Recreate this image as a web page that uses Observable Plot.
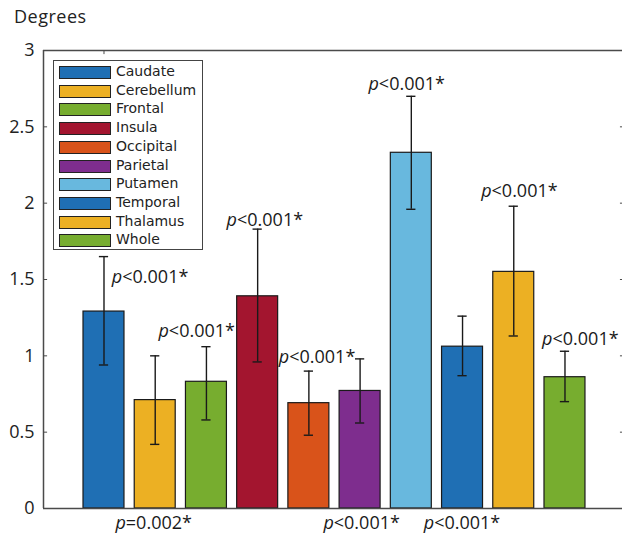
<!DOCTYPE html>
<html><head><meta charset="utf-8">
<script src="https://cdn.jsdelivr.net/npm/d3@7"></script>
<script src="https://cdn.jsdelivr.net/npm/@observablehq/plot@0.6"></script>
<style>
body{margin:0;background:#fff;}
#wrap{position:relative;width:622px;height:534px;font-family:"Open Sans",sans-serif;overflow:hidden;}
#wrap svg{position:absolute;left:0;top:0;}
#title{position:absolute;left:14px;top:4px;font-size:18px;letter-spacing:0.5px;color:#222;}
#legend{position:absolute;left:53px;top:60px;width:150px;height:190px;border:1px solid #444;background:#fff;box-sizing:border-box;font-family:"DejaVu Sans",sans-serif;font-size:14px;color:#222;}
.row{position:absolute;left:5px;height:14px;}
.sw{position:absolute;left:0;top:0;width:52px;height:13px;box-sizing:border-box;border:1.3px solid #222;}
.lb{position:absolute;left:57px;top:-3px;white-space:nowrap;}
</style></head>
<body>
<div id="wrap"><div id="title">Degrees</div></div>
<script>
const regions = ["Caudate","Cerebellum","Frontal","Insula","Occipital","Parietal","Putamen","Temporal","Thalamus","Whole"];
const colors = ["#1f6fb4","#ecb023","#77ad2f","#a3152f","#d9531a","#7e2d8e","#68b8de","#1f6fb4","#ecb023","#77ad2f"];
const means = [1.29,0.71,0.83,1.39,0.69,0.77,2.33,1.06,1.55,0.86];
const errLow = [0.94,0.42,0.58,0.96,0.48,0.56,1.96,0.87,1.13,0.70];
const errHigh = [1.65,1.00,1.06,1.83,0.90,0.98,2.70,1.26,1.98,1.03];
const annText = ["p<0.001*","p=0.002*","p<0.001*","p<0.001*","p<0.001*","p<0.001*","p<0.001*","p<0.001*","p<0.001*","p<0.001*"];
const annX = [1.90,1.97,2.81,4.14,5.16,6.03,7.99,6.91,9.11,10.30];
const annY = [1.513,-0.098,1.159,1.889,0.989,-0.098,-0.098,2.78,2.079,1.111];
const yTicks = [0,0.5,1,1.5,2,2.5,3];
const yTickLabels = ["0","0.5","1","1.5","2","2.5","3"];
const xTicks = [1];

const xmin = -0.181, xmax = 11.123;
const bars = regions.map((r,i)=>({region:r, x:i+1, mean:means[i], lo:errLow[i], hi:errHigh[i], color:colors[i]}));
const ann = annText.map((t,i)=>({text:t, x:annX[i], y:annY[i]}));
const ink = "#1a1a1a", axisInk = "#4a4a4a";

const chart = Plot.plot({
  width:622, height:534,
  marginTop:50, marginBottom:26, marginLeft:43, marginRight:0,
  x:{domain:[xmin,xmax], axis:null},
  y:{domain:[0,3]},
  style:{fontFamily:"Open Sans, sans-serif", background:"transparent"},
  marks:[
    Plot.rect(bars,{x1:d=>d.x-0.4, x2:d=>d.x+0.4, y1:0, y2:"mean", fill:"color", stroke:ink, strokeWidth:1.2}),
    Plot.ruleX(bars,{x:"x", y1:"lo", y2:"hi", stroke:ink, strokeWidth:1.4}),
    Plot.ruleY(bars,{y:"lo", x1:d=>d.x-0.09, x2:d=>d.x+0.09, stroke:ink, strokeWidth:1.4}),
    Plot.ruleY(bars,{y:"hi", x1:d=>d.x-0.09, x2:d=>d.x+0.09, stroke:ink, strokeWidth:1.4}),
    Plot.ruleY([0,3],{x1:xmin, x2:xmax, stroke:axisInk, strokeWidth:1.5}),
    Plot.ruleX([xmin],{y1:0, y2:3, stroke:axisInk, strokeWidth:1.5}),
    Plot.ruleY(yTicks,{x1:xmin, x2:xmin+0.08, stroke:axisInk}),
    Plot.ruleY(yTicks,{x1:xmax-0.04, x2:xmax, stroke:axisInk}),
    Plot.ruleX(xTicks,{y1:3, y2:3-0.027, stroke:axisInk}),
    Plot.axisY(yTicks,{tickSize:0, tickPadding:9, fontSize:18, fill:"#222", label:null,
      tickFormat:d=>yTickLabels[yTicks.indexOf(d)]}),
    Plot.text(ann,{x:"x", y:"y", text:"text", fontSize:18, fill:ink, textAnchor:"middle"})
  ]
});
const wrap = document.getElementById("wrap");
wrap.insertBefore(chart, wrap.firstChild);

chart.querySelectorAll("text").forEach(t=>{
  const s = t.textContent;
  if (/^p[<=]/.test(s)) {
    t.textContent = "";
    const a = document.createElementNS("http://www.w3.org/2000/svg","tspan");
    a.setAttribute("font-style","italic"); a.textContent = "p";
    const b = document.createElementNS("http://www.w3.org/2000/svg","tspan");
    b.textContent = s.slice(1);
    t.appendChild(a); t.appendChild(b);
  }
});

const legend = d3.select(wrap).append("div").attr("id","legend");
const rows = legend.selectAll(".row").data(regions).join("div").attr("class","row")
  .style("top",(d,i)=>(5+i*18.7)+"px");
rows.append("div").attr("class","sw").style("background",(d,i)=>colors[i]);
rows.append("div").attr("class","lb").text(d=>d);
</script>
</body></html>
